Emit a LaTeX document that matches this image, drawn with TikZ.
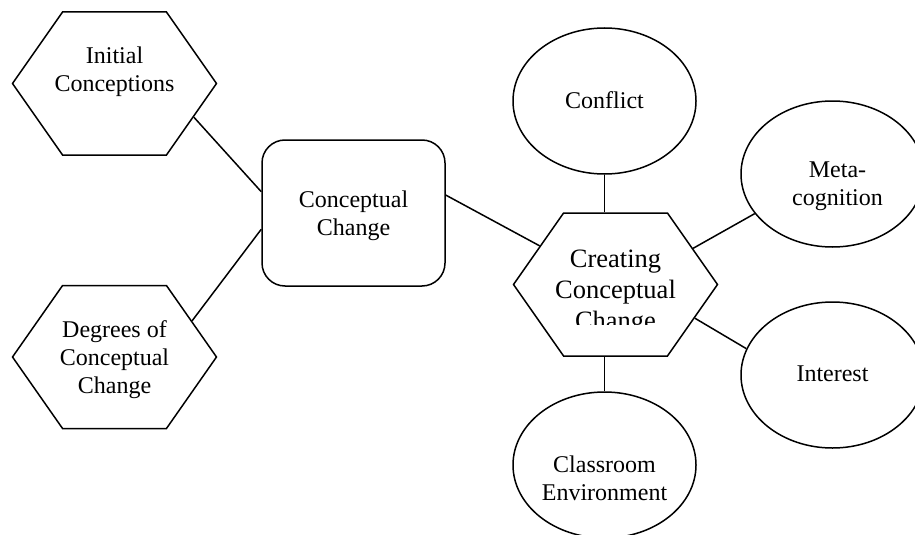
\documentclass[tikz,border=0pt]{standalone}
\usepackage{fontspec}
\setmainfont{Liberation Serif}
\usetikzlibrary{shapes.symbols,shapes.geometric}
\begin{document}
\begin{tikzpicture}[x=1pt,y=-1pt,line width=1.5pt,
  hexa/.style={draw,shape=signal,signal to=east and west,signal pointer angle=110,
    minimum width=204pt,minimum height=143pt,inner sep=0pt},
  oval/.style={draw,ellipse,minimum width=183pt,minimum height=146pt,inner sep=0pt},
  rbox/.style={draw,rectangle,rounded corners=23pt,minimum width=183pt,minimum height=146pt},
  lbl/.style={align=center,font=\fontsize{24}{28}\selectfont,inner sep=0pt},
  biglbl/.style={align=center,font=\fontsize{26.5}{31}\selectfont,inner sep=0pt}]
\clip (0,0) rectangle (915,535);
\fill[white] (0,0) rectangle (915,535);
% shapes
\node[hexa] (ic) at (114.5,83.5) {};
\node[hexa] (dc) at (114.5,357) {};
\node[rbox] (cc) at (353.5,213) {};
\node[hexa] (ccc) at (615.5,284.5) {};
\node[oval] (cf) at (604.5,101) {};
\node[oval] (mc) at (832.5,174) {};
\node[oval] (it) at (832.5,375) {};
\node[oval] (cl) at (604.5,465) {};
% labels
\node[lbl] (ict) at (114.5,71.5) {Initial\\Conceptions};
\node[lbl] (dct) at (114.5,359.5) {Degrees of\\Conceptual\\Change};
\node[lbl] (cct) at (353.5,215.5) {Conceptual\\Change};
\node[lbl] (cft) at (604.5,100) {Conflict};
\node[lbl] (mct) at (837.5,186.5) {Meta-\\cognition};
\node[lbl] (itt) at (832.5,374) {Interest};
\node[lbl] (clt) at (604.5,478.5) {Classroom\\Environment};
\begin{scope}
  \clip (500,200) rectangle (730,324.5);
  \node[biglbl] (ccct) at (615.5,293) {Creating\\Conceptual\\Change};
\end{scope}
% connectors
\draw (ic.-23.7) -- (cc.167.7);
\draw (dc.25.2) -- (cc.190.5);
\draw (cc.11.1) -- (ccc.153.9);
\draw (cf.south) -- (cf.south |- ccc.north);
\draw (cl.north) -- (cl.north |- ccc.south);
\draw (ccc.25.3) -- (mc.207.9);
\draw (ccc.-23.5) -- (it.163.2);
\end{tikzpicture}
\end{document}
